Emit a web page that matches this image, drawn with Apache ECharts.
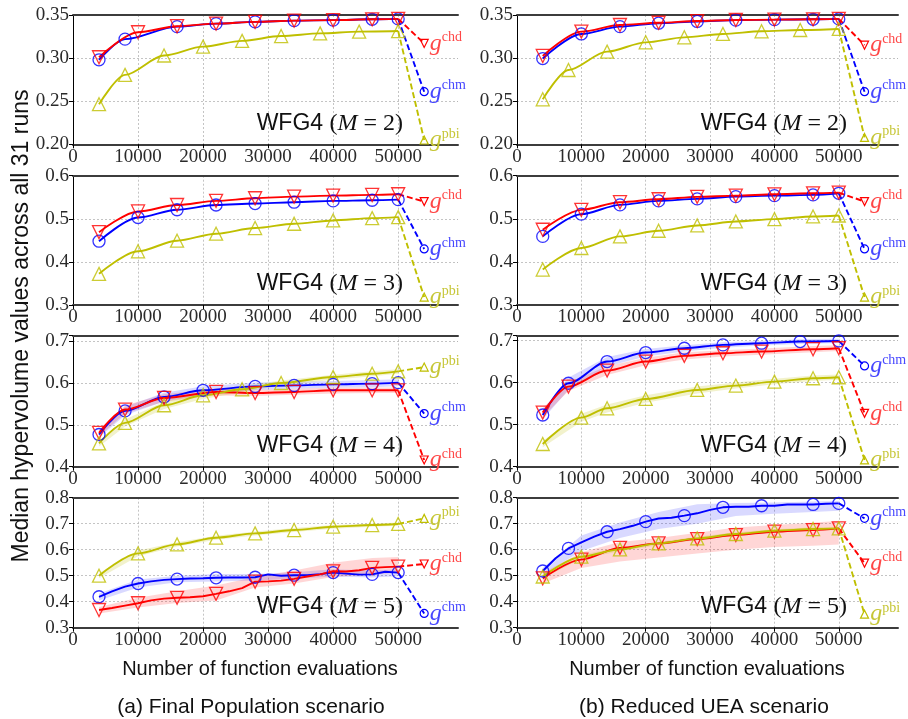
<!DOCTYPE html>
<html><head><meta charset="utf-8">
<script src="https://cdn.jsdelivr.net/npm/echarts@6/dist/echarts.min.js"></script>
<style>html,body{margin:0;padding:0;background:#fff}#c{width:908px;height:719px}</style>
</head><body><div id="c"></div>
<script>
// ---------- x positions (function evaluations) ----------
const xTickValues = [0, 10000, 20000, 30000, 40000, 50000];
const xsA = [4000, 10000, 16000, 22000, 28000, 34000, 40000, 46000, 50000];
const xsB = [4000, 8000, 14000, 20000, 26000, 32000, 38000, 44000, 50000];
const xsC = [4000, 8000, 16000, 22000, 28000, 34000, 40000, 46000, 50000];
const xsD = [4000, 8000, 14000, 20000, 28000, 34000, 40000, 46000, 50000];
const xsE = [4000, 8000, 14000, 22000, 28000, 34000, 40000, 46000, 50000];
const xsF = [4000, 8000, 14000, 20000, 26000, 32000, 40000, 46000, 50000];
const xsG = [4000, 8000, 14000, 20000, 26000, 32000, 38000, 46000, 50000];
const xsH = [4000, 10000, 14000, 20000, 28000, 34000, 40000, 46000, 50000];
const xsFine = [4000, 6000, 8000, 10000, 12000, 14000, 16000, 18000, 20000, 22000, 24000, 26000,
                28000, 30000, 32000, 34000, 36000, 38000, 40000, 42000, 44000, 46000, 48000, 50000];
const endX = 54000;

// ---------- panels ----------
const panelM = [2, 2, 3, 3, 4, 4, 5, 5];
const yMin = [0.2, 0.2, 0.3, 0.3, 0.4, 0.4, 0.3, 0.3];
const yMax = [0.35, 0.35, 0.6, 0.6, 0.7135, 0.712, 0.8, 0.8];
const yStep = [0.05, 0.05, 0.1, 0.1, 0.1, 0.1, 0.1, 0.1];
const yDecimals = [2, 2, 1, 1, 1, 1, 1, 1];
const xMax = 59200;
const captions = ['(a) Final Population scenario', '(b) Reduced UEA scenario'];
const xTitle = 'Number of function evaluations';
const yTitle = 'Median hypervolume values across all 31 runs';

// ---------- M = 2 ----------
const chdY_L2 = [0.301, 0.330, 0.337, 0.340, 0.342, 0.3435, 0.344, 0.345, 0.3455];
const chmY_L2 = [0.298, 0.322, 0.3365, 0.340, 0.342, 0.3435, 0.344, 0.345, 0.3455];
const pbiY_L2 = [0.2465, 0.2805, 0.303, 0.3133, 0.320, 0.3256, 0.3287, 0.3307, 0.3314];
const chdY_R2 = [0.3025, 0.3307, 0.3384, 0.341, 0.343, 0.3442, 0.3446, 0.345, 0.3455];
const chmY_R2 = [0.2995, 0.328, 0.3365, 0.3405, 0.3425, 0.344, 0.3446, 0.345, 0.3455];
const pbiY_R2 = [0.2522, 0.2862, 0.3075, 0.3183, 0.3241, 0.328, 0.3311, 0.3326, 0.3338];
// ---------- M = 3 ----------
const chdY_L3 = [0.469, 0.517, 0.532, 0.5415, 0.5477, 0.5515, 0.5538, 0.5554, 0.557];
const chmY_L3 = [0.448, 0.503, 0.521, 0.532, 0.5354, 0.5385, 0.5415, 0.543, 0.5445];
const pbiY_L3 = [0.3723, 0.4246, 0.4492, 0.4654, 0.4785, 0.4885, 0.4962, 0.5015, 0.5038];
const chdY_R3 = [0.4746, 0.5208, 0.5385, 0.5454, 0.5508, 0.5538, 0.5569, 0.5592, 0.5608];
const chmY_R3 = [0.4592, 0.5108, 0.5323, 0.5415, 0.5462, 0.5515, 0.5538, 0.5554, 0.5592];
const pbiY_R3 = [0.3823, 0.4323, 0.4592, 0.4723, 0.4846, 0.4938, 0.4992, 0.5054, 0.5077];
// ---------- M = 4 ----------
const chmY_L4 = [0.477, 0.5333, 0.5667, 0.5825, 0.592, 0.5944, 0.5968, 0.5984, 0.6008];
const chmLo_L4 = [0.470, 0.523, 0.556, 0.572, 0.583, 0.586, 0.589, 0.590, 0.592];
const chmHi_L4 = [0.485, 0.543, 0.577, 0.592, 0.601, 0.603, 0.605, 0.607, 0.609];
const chdY_L4 = [0.481, 0.5365, 0.5643, 0.5786, 0.576, 0.5786, 0.5825, 0.5825, 0.5825];
const chdLo_L4 = [0.473, 0.527, 0.555, 0.570, 0.569, 0.572, 0.575, 0.576, 0.576];
const chdHi_L4 = [0.489, 0.546, 0.573, 0.587, 0.584, 0.586, 0.589, 0.589, 0.589];
const pbiY_L4 = [0.4556, 0.5048, 0.5468, 0.5706, 0.5849, 0.600, 0.6143, 0.6222, 0.6278];
const pbiLo_L4 = [0.448, 0.496, 0.538, 0.562, 0.578, 0.594, 0.608, 0.616, 0.622];
const pbiHi_L4 = [0.463, 0.513, 0.555, 0.578, 0.592, 0.606, 0.620, 0.628, 0.633];
const chmY_R4 = [0.523, 0.5984, 0.65, 0.6714, 0.6817, 0.6897, 0.6937, 0.6976, 0.699];
const chmLo_R4 = [0.512, 0.583, 0.638, 0.662, 0.674, 0.683, 0.688, 0.692, 0.694];
const chmHi_R4 = [0.535, 0.612, 0.661, 0.680, 0.689, 0.696, 0.699, 0.703, 0.704];
const chdY_R4 = [0.5286, 0.5905, 0.6286, 0.65, 0.6635, 0.6698, 0.6738, 0.6794, 0.6817];
const chdLo_R4 = [0.518, 0.580, 0.618, 0.641, 0.655, 0.662, 0.666, 0.672, 0.675];
const chdHi_R4 = [0.539, 0.601, 0.639, 0.659, 0.672, 0.677, 0.681, 0.687, 0.689];
const pbiY_R4 = [0.454, 0.5167, 0.5389, 0.5611, 0.5825, 0.5929, 0.6024, 0.6103, 0.6127];
const pbiLo_R4 = [0.446, 0.507, 0.529, 0.552, 0.574, 0.586, 0.596, 0.604, 0.607];
const pbiHi_R4 = [0.462, 0.526, 0.548, 0.570, 0.591, 0.600, 0.609, 0.617, 0.619];
// ---------- M = 5 ----------
const chmY_L5 = [0.419, 0.440, 0.458, 0.470, 0.478, 0.484, 0.487, 0.489, 0.490, 0.492, 0.493, 0.493,
                 0.494, 0.505, 0.500, 0.502, 0.502, 0.506, 0.512, 0.508, 0.504, 0.505, 0.515, 0.512];
const chmLo_L5 = [0.405, 0.455, 0.475, 0.478, 0.482, 0.488, 0.497, 0.493, 0.498];
const chmHi_L5 = [0.432, 0.485, 0.500, 0.507, 0.507, 0.513, 0.525, 0.520, 0.525];
const chdY_L5 = [0.368, 0.376, 0.385, 0.394, 0.405, 0.412, 0.415, 0.417, 0.421, 0.430, 0.440, 0.452,
                 0.477, 0.478, 0.481, 0.488, 0.497, 0.505, 0.517, 0.516, 0.521, 0.530, 0.533, 0.535];
const chdLo_L5 = [0.355, 0.378, 0.395, 0.405, 0.455, 0.470, 0.495, 0.505, 0.512];
const chdHi_L5 = [0.380, 0.415, 0.440, 0.462, 0.495, 0.520, 0.550, 0.568, 0.572];
const pbiY_L5 = [0.500, 0.5859, 0.6205, 0.6462, 0.6628, 0.6756, 0.6885, 0.6949, 0.699];
const pbiLo_L5 = [0.490, 0.575, 0.612, 0.638, 0.655, 0.668, 0.681, 0.688, 0.692];
const pbiHi_L5 = [0.510, 0.597, 0.629, 0.654, 0.670, 0.683, 0.695, 0.701, 0.705];
const chmY_R5 = [0.518, 0.567, 0.605, 0.628, 0.650, 0.669, 0.679, 0.692, 0.708, 0.720, 0.723, 0.731,
                 0.740, 0.753, 0.763, 0.765, 0.765, 0.769, 0.769, 0.774, 0.774, 0.774, 0.777, 0.778];
const chmLo_R5 = [0.505, 0.595, 0.645, 0.680, 0.700, 0.730, 0.738, 0.745, 0.750];
const chmHi_R5 = [0.530, 0.655, 0.705, 0.745, 0.775, 0.780, 0.782, 0.785, 0.787];
const chdY_R5 = [0.4897, 0.562, 0.607, 0.6244, 0.641, 0.6564, 0.6692, 0.6756, 0.6821];
const chdLo_R5 = [0.470, 0.530, 0.555, 0.570, 0.585, 0.600, 0.610, 0.615, 0.620];
const chdHi_R5 = [0.510, 0.590, 0.630, 0.645, 0.665, 0.685, 0.695, 0.705, 0.710];
const pbiY_R5 = [0.497, 0.573, 0.6013, 0.6244, 0.6436, 0.6603, 0.6731, 0.6795, 0.6821];
const pbiLo_R5 = [0.490, 0.565, 0.594, 0.617, 0.637, 0.654, 0.667, 0.673, 0.676];
const pbiHi_R5 = [0.505, 0.581, 0.609, 0.631, 0.650, 0.667, 0.679, 0.686, 0.688];

// ---------- end points at x = 54000 (panels L2,R2,L3,R3,L4,R4,L5,R5) ----------
const endChd = [0.317, 0.315, 0.540, 0.540, 0.416, 0.527, 0.545, 0.548];
const endChm = [0.261, 0.261, 0.430, 0.430, 0.527, 0.6397, 0.355, 0.7205];
const endPbi = [0.205, 0.208, 0.3185, 0.3185, 0.638, 0.416, 0.7205, 0.352];

// ---------- spec table: [panel, key, lineX, lineY, markX, smooth, bandX, bandLo, bandHi] ----------
const spec = [
  [0,'chm',xsC,chmY_L2,xsC,true], [0,'chd',xsA,chdY_L2,xsA,true], [0,'pbi',xsB,pbiY_L2,xsB,true],
  [1,'chm',xsA,chmY_R2,xsA,true], [1,'chd',xsA,chdY_R2,xsA,true], [1,'pbi',xsB,pbiY_R2,xsB,true],
  [2,'chm',xsA,chmY_L3,xsA,true], [2,'chd',xsA,chdY_L3,xsA,true], [2,'pbi',xsA,pbiY_L3,xsA,true],
  [3,'chm',xsA,chmY_R3,xsA,true], [3,'chd',xsA,chdY_R3,xsA,true], [3,'pbi',xsA,pbiY_R3,xsA,true],
  [4,'chm',xsD,chmY_L4,xsD,true,xsD,chmLo_L4,chmHi_L4], [4,'chd',xsE,chdY_L4,xsE,true,xsE,chdLo_L4,chdHi_L4],
  [4,'pbi',xsF,pbiY_L4,xsF,true,xsF,pbiLo_L4,pbiHi_L4],
  [5,'chm',xsB,chmY_R4,xsB,true,xsB,chmLo_R4,chmHi_R4], [5,'chd',xsG,chdY_R4,xsG,true,xsG,chdLo_R4,chdHi_R4],
  [5,'pbi',xsH,pbiY_R4,xsH,true,xsH,pbiLo_R4,pbiHi_R4],
  [6,'chm',xsFine,chmY_L5,xsA,false,xsA,chmLo_L5,chmHi_L5], [6,'chd',xsFine,chdY_L5,xsA,false,xsA,chdLo_L5,chdHi_L5],
  [6,'pbi',xsA,pbiY_L5,xsA,true,xsA,pbiLo_L5,pbiHi_L5],
  [7,'chm',xsFine,chmY_R5,xsG,false,xsA,chmLo_R5,chmHi_R5], [7,'chd',xsA,chdY_R5,xsA,true,xsA,chdLo_R5,chdHi_R5],
  [7,'pbi',xsA,pbiY_R5,xsA,true,xsA,pbiLo_R5,pbiHi_R5]
];
const ENDS = {chd:endChd, chm:endChm, pbi:endPbi};

// ---------- styling ----------
const COLOR = {chm:'#0000ff', chd:'#ff0000', pbi:'#bfbf00'};
const LABELC = {chm:'#4747ff', chd:'#ff4747', pbi:'#c6c636'};
const BANDC = {chm:'rgba(0,0,255,0.15)', chd:'rgba(255,0,0,0.16)', pbi:'rgba(191,191,0,0.2)'};
const SYM = {chm:['circle',0,12], chd:['triangle',180,13], pbi:['triangle',0,13]};
const gridLeft = [73, 517], gridWidth = [385, 381];
const rowTop = [15, 175.7, 335.5, 497.7], rowHeight = [129.3, 129.3, 131.2, 130];
const SERIF = 'Liberation Serif', SANS = 'Liberation Sans';

const grids = [], xAxes = [], yAxes = [], series = [], graphics = [];
for (let i = 0; i < 8; i++) {
  const col = i % 2, row = Math.floor(i / 2);
  grids.push({left: gridLeft[col], top: rowTop[row], width: gridWidth[col], height: rowHeight[row]});
  xAxes.push({
    gridIndex: i, type: 'value', position: 'bottom', min: 0, max: xMax, interval: 10000,
    axisLine: {show: true, onZero: false, lineStyle: {color: '#3c3c3c', width: 2}},
    axisTick: {show: true, length: 4, lineStyle: {color: '#000', width: 1}},
    axisLabel: {fontFamily: SERIF, fontSize: 19, color: '#2a2a2a', margin: 3, showMaxLabel: false,
      formatter: v => xTickValues.includes(v) ? String(v) : ''},
    splitLine: {show: true, showMaxLine: false, lineStyle: {type: [2, 2], width: 0.8,
      color: ['#b5b5b5','#b5b5b5','#b5b5b5','#b5b5b5','#b5b5b5','#b5b5b5','rgba(0,0,0,0)']}}
  });
  const ymin = yMin[i], st = yStep[i], dec = yDecimals[i];
  yAxes.push({
    gridIndex: i, type: 'value', min: ymin, max: yMax[i], interval: st,
    axisLine: {show: true, onZero: false, lineStyle: {color: '#000', width: 1}},
    axisTick: {show: true, length: 4, lineStyle: {color: '#000', width: 1}},
    axisLabel: {fontFamily: SERIF, fontSize: 19, color: '#2a2a2a', margin: 4,
      formatter: v => { const k = (v - ymin) / st; return Math.abs(k - Math.round(k)) > 1e-6 ? '' : v.toFixed(dec); }},
    splitLine: {show: true, lineStyle: {type: [2, 2], width: 0.8, color: '#b5b5b5'}}
  });
}
for (let i = 0; i < 8; i++) {
  xAxes.push({gridIndex: i, type: 'value', position: 'top', min: 0, max: xMax,
    axisLine: {show: true, onZero: false, lineStyle: {color: '#3c3c3c', width: 2}},
    axisTick: {show: false}, axisLabel: {show: false}, splitLine: {show: false}});
}

spec.forEach(([p, key, lx, ly, mx, smooth, bx, blo, bhi]) => {
  const base = {xAxisIndex: p, yAxisIndex: p, silent: true, animation: false};
  if (bx) {
    const fill = BANDC[key];
    series.push(Object.assign({type: 'custom', z: 1, clip: true,
      data: bx.map((x, k) => [x, blo[k], bhi[k]]),
      encode: {x: 0, y: [1, 2]},
      renderItem: (params, api) => {
        if (params.dataIndex !== 0) return null;
        const upper = bx.map((x, k) => api.coord([x, bhi[k]]));
        const lower = bx.map((x, k) => api.coord([x, blo[k]])).reverse();
        return {type: 'polygon', shape: {points: upper.concat(lower)}, style: {fill: fill, stroke: null}};
      }}, base));
  }
  series.push(Object.assign({type: 'line', symbol: 'none', smooth: smooth ? 0.3 : false, smoothMonotone: 'x',
    lineStyle: {color: COLOR[key], width: 1.9}, z: 2, data: lx.map((x, k) => [x, ly[k]])}, base));
  const [sym, rot, size] = SYM[key];
  series.push(Object.assign({type: 'scatter', symbol: sym, symbolRotate: rot, symbolSize: size, z: 3,
    itemStyle: {color: 'rgba(0,0,0,0)', borderColor: COLOR[key], borderWidth: 1.3},
    data: lx.map((x, k) => [x, ly[k]]).filter(d => mx.includes(d[0]))}, base));
  const lastX = lx[lx.length - 1], lastY = ly[ly.length - 1];
  series.push(Object.assign({type: 'line', z: 3, clip: false,
    lineStyle: {color: COLOR[key], width: 1.9, type: [6, 3]},
    itemStyle: {color: 'rgba(0,0,0,0)', borderColor: COLOR[key], borderWidth: 1.2},
    data: [{value: [lastX, lastY], symbol: 'none'},
      {value: [endX, ENDS[key][p]], symbol: sym, symbolRotate: rot, symbolSize: 8,
       label: {show: true, position: 'right', distance: 1, formatter: '{g|g}{s|' + key + '}',
         rich: {g: {fontFamily: SERIF, fontStyle: 'italic', fontSize: 24, lineHeight: 26, color: LABELC[key]},
                s: {fontFamily: SERIF, fontSize: 14, lineHeight: 14, verticalAlign: 'top', color: LABELC[key]}}}}]
  }, base));
});

// panel labels
for (let i = 0; i < 8; i++) {
  const col = i % 2, row = Math.floor(i / 2);
  graphics.push({type: 'text', x: gridLeft[col] + 330, y: rowTop[row] + rowHeight[row] - 21, z: 10,
    style: {text: '{s|WFG4 }{r|(}{i|M}{r| = ' + panelM[i] + ')}', align: 'right', verticalAlign: 'middle',
      rich: {s: {fontFamily: SANS, fontSize: 23, fill: '#111'},
             r: {fontFamily: SERIF, fontSize: 24, fill: '#111'},
             i: {fontFamily: SERIF, fontStyle: 'italic', fontSize: 24, fill: '#111'}}}});
}
// titles & captions
const xTitleX = [260, 707], captionX = [251, 704];
for (let c = 0; c < 2; c++) {
  graphics.push({type: 'text', x: xTitleX[c], y: 669, style: {text: xTitle, align: 'center', verticalAlign: 'middle',
    fontFamily: SANS, fontSize: 20, fill: '#111'}});
  graphics.push({type: 'text', x: captionX[c], y: 707, style: {text: captions[c], align: 'center', verticalAlign: 'middle',
    fontFamily: SANS, fontSize: 21, fill: '#111'}});
}
graphics.push({type: 'text', x: 22, y: 326, rotation: Math.PI / 2, style: {text: yTitle, align: 'center',
  verticalAlign: 'middle', fontFamily: SANS, fontSize: 23, fill: '#111'}});

const chart = echarts.init(document.getElementById('c'), null, {renderer: 'canvas'});
chart.setOption({animation: false, backgroundColor: '#fff', grid: grids, xAxis: xAxes, yAxis: yAxes,
  series: series, graphic: graphics});
</script></body></html>
